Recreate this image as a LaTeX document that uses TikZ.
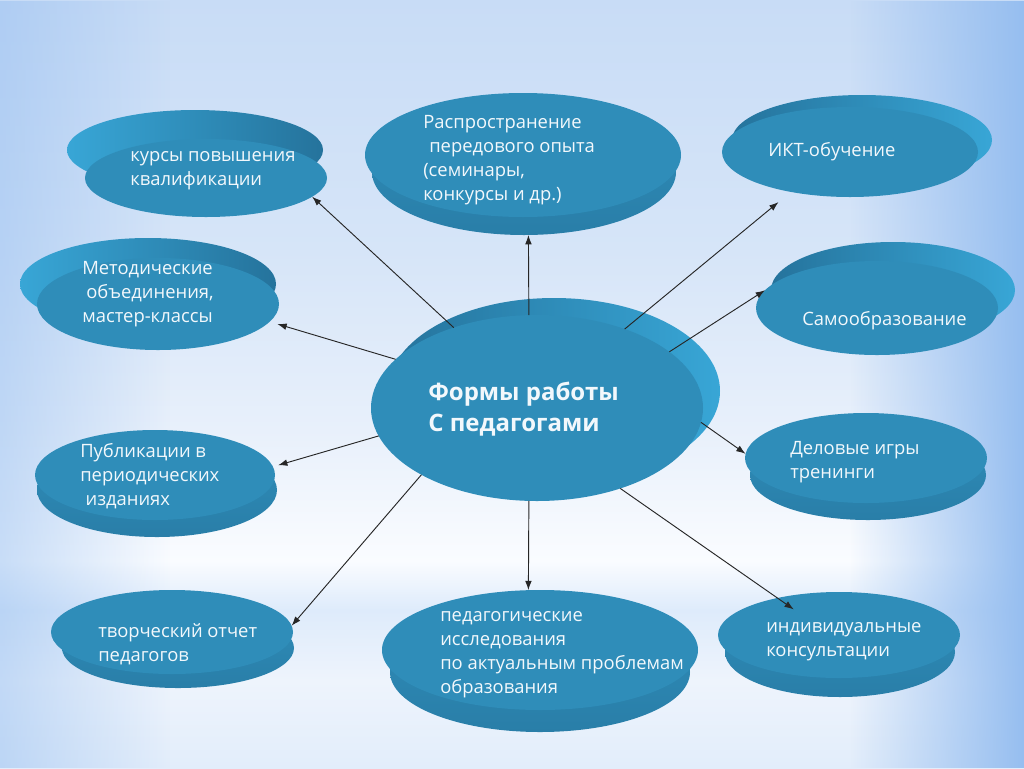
\documentclass[tikz,border=0pt]{standalone}
\usepackage{fontspec}
\setmainfont{Open Sans}
\usetikzlibrary{arrows,arrows.meta,shapes.geometric,fadings}

\definecolor{discblue}{RGB}{47,141,185}
\definecolor{rimdark}{RGB}{37,115,156}
\definecolor{rimlight}{RGB}{56,166,214}
\definecolor{rimmid}{RGB}{41,126,168}
\definecolor{txtwhite}{RGB}{242,248,252}
\definecolor{edgeblue}{RGB}{150,190,240}
\definecolor{bga}{RGB}{200,220,246}
\definecolor{bgb}{RGB}{214,229,248}
\definecolor{bgc}{RGB}{232,240,251}
\definecolor{bgd}{RGB}{250,252,255}
\definecolor{bge}{RGB}{222,235,251}
\definecolor{bgf}{RGB}{238,244,252}
\definecolor{bgg}{RGB}{226,237,251}

\pgfdeclareverticalshading{slide}{100bp}{color(0bp)=(bgg); color(25bp)=(bgg);
  color(30.7bp)=(bgf); color(35.3bp)=(bge); color(38.5bp)=(bgd); color(47bp)=(bgc);
  color(58.7bp)=(bgb); color(75bp)=(bga); color(100bp)=(bga)}
\tikzfading[name=fade left, left color=transparent!0, right color=transparent!100]
\tikzfading[name=fade right, left color=transparent!100, right color=transparent!0]

\begin{document}
\begin{tikzpicture}[x=0.75pt,y=0.75pt,yscale=-1,xscale=1,
  disc/.style 2 args={ellipse, fill=discblue, inner sep=0pt, outer sep=0pt, minimum width=#1*1.5pt, minimum height=#2*1.5pt},
  rim/.style n args={4}{ellipse, inner sep=0pt, outer sep=0pt, minimum width=#1*1.5pt, minimum height=#2*1.5pt, left color=#3, middle color=rimdark, right color=#4},
  rimlow/.style 2 args={ellipse, inner sep=0pt, outer sep=0pt, minimum width=#1*1.5pt, minimum height=#2*1.5pt, top color=discblue, bottom color=rimmid},
  txt/.style={anchor=west, inner sep=0pt, align=left, text=txtwhite, font=\fontsize{13.8}{18}\selectfont},
  conn/.style={-{Latex[length=7pt,width=5pt]}, line width=0.7pt, draw=black!85}]

%Background
\shade[shading=slide] (0,0) rectangle (1024,768);
\fill[edgeblue, path fading=fade left, fill opacity=0.5] (0,0) rectangle (170,768);
\fill[edgeblue, path fading=fade right] (850,0) rectangle (1024,768);
\useasboundingbox (0,0) rectangle (1024,768);

%Rims
\node[rim={166}{93}{rimdark}{rimlight}] (cb) at (554,391) {};
\node[rim={128}{40}{rimlight}{rimdark}] (k1b) at (195,150) {};
\node[rim={128}{46}{rimlight}{rimdark}] (metb) at (148,284) {};
\node[rim={130}{45}{rimdark}{rimlight}] (iktb) at (862,140) {};
\node[rim={122}{48}{rimdark}{rimlight}] (samb) at (893,290) {};
\node[rimlow={152}{63}] (rasb) at (524,172) {};
\node[rimlow={120}{47}] (pubb) at (157,490) {};
\node[rimlow={116}{40}] (tvob) at (178,648) {};
\node[rimlow={150}{60}] (pedb) at (540,672) {};
\node[rimlow={118}{45}] (delb) at (868,475) {};
\node[rimlow={115}{45}] (indb) at (840,652) {};

%Discs
\node[disc={166}{93}] (c) at (537,408) {};
\node[disc={121}{39}] (k1) at (206,178) {};
\node[disc={121}{46}] (met) at (158,304) {};
\node[disc={120}{45}] (pub) at (155,475) {};
\node[disc={121}{42}] (tvo) at (172,632) {};
\node[disc={158}{60}] (ped) at (540,650) {};
\node[disc={121}{43}] (ind) at (839,635) {};
\node[disc={121}{45}] (del) at (866,458) {};
\node[disc={121}{47}] (sam) at (877,308) {};
\node[disc={128}{45}] (ikt) at (850,152) {};
\node[disc={158}{62}] (ras) at (523,155) {};

% Text Node
\node[txt, font=\bfseries\fontsize{18}{23.5}\selectfont] (ct) at (428,409) {Формы работы\\С педагогами};
\node[txt] (k1t) at (130,171) {курсы повышения\\квалификации};
\node[txt] (mett) at (82,294) {Методические\\\hspace*{3pt}объединения,\\мастер-классы};
\node[txt] (pubt) at (80,476) {Публикации в\\периодических\\\hspace*{4pt}изданиях};
\node[txt] (tvot) at (98,644) {творческий отчет\\педагогов};
\node[txt] (pedt) at (440,655) {педагогические\\исследования\\по актуальным проблемам\\образования};
\node[txt] (indt) at (766,642) {индивидуальные\\консультации};
\node[txt] (delt) at (790,462) {Деловые игры\\тренинги};
\node[txt] (samt) at (802,321) {Самообразование};
\node[txt] (iktt) at (768,152) {ИКТ-обучение};
\node[txt] (rast) at (423,160) {Распространение\\\hspace*{4.5pt}передового опыта\\(семинары,\\конкурсы и др.)};

%Arrows
\draw[conn] (c.136) -- (k1.-10);
\draw[conn, shorten >=6pt] (c.161) -- (met.-9);
\draw[conn, shorten >=4pt] (c.-170) -- (pub.4);
\draw[conn] (c.-150) -- (tvo.3);
\draw[conn] (c.-95.5) -- (ped.101.3);
\draw[conn, shorten >=-15pt] (c.-44) -- (ind.149);
\draw[conn] (c.-5) -- (del.178);
\draw[conn] (c.23) -- (sam.171);
\draw[conn, shorten >=12pt] (c.42) -- (ikt.-146);
\draw[conn] (c.95.5) -- (rasb.-86.4);

\end{tikzpicture}
\end{document}
